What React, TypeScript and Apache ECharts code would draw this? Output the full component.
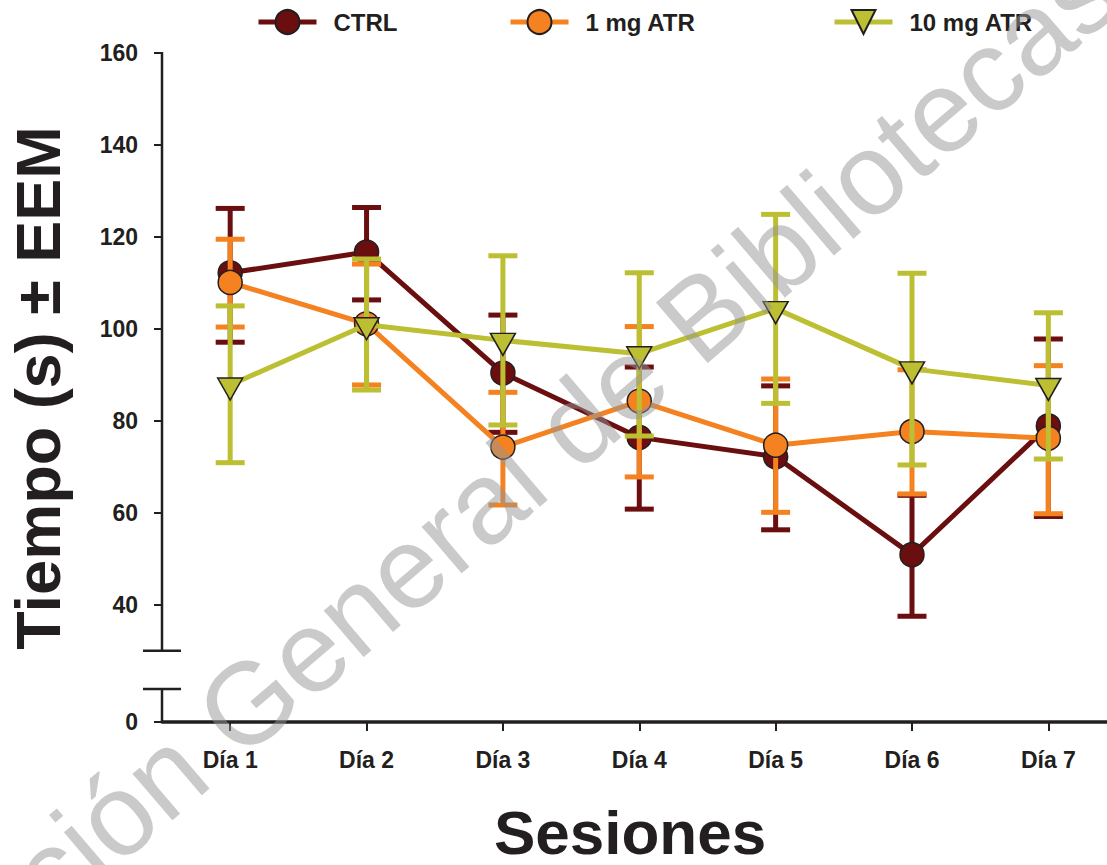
import React, { useEffect, useRef } from 'react';
import * as echarts from 'echarts';

// ---- data ----
const days = ['Día 1', 'Día 2', 'Día 3', 'Día 4', 'Día 5', 'Día 6', 'Día 7'];
const yTickValues = [40, 60, 80, 100, 120, 140, 160];

const ctrlMean = [112.2, 116.7, 90.4, 76.4, 72.2, 50.9, 78.9];
const ctrlLow = [97.1, 106.3, 77.5, 60.8, 56.3, 37.5, 59.2];
const ctrlHigh = [126.2, 126.4, 103.0, 91.7, 87.6, 63.8, 97.8];

const atr1Mean = [110.1, 101.1, 74.3, 84.3, 74.7, 77.7, 76.2];
const atr1Low = [100.4, 87.8, 61.7, 67.8, 60.1, 64.1, 59.8];
const atr1High = [119.5, 114.1, 86.2, 100.5, 89.1, 91.1, 92.0];

const atr10Mean = [87.8, 100.9, 97.5, 94.6, 104.4, 91.3, 87.7];
const atr10Low = [70.9, 86.7, 79.1, 76.7, 83.8, 70.4, 71.7];
const atr10High = [105.0, 115.2, 115.9, 112.2, 124.9, 112.1, 103.5];

// axis layout constants
const Y_MIN = 14.5; // plotted position of the "0" tick (broken axis)
const Y_MAX = 160;
const BREAK_TOP = 30;
const BREAK_BOTTOM = 21.7;
const X_MIN = 0.5;
const X_MAX = 7.43;

const FONT = '"Liberation Sans", Arial, Helvetica, sans-serif';
const TEXT = '#231F20';
const C_CTRL = '#6B0E10';
const C_ATR1 = '#F58220';
const C_ATR10 = '#BDBF33';

function errBar(name: string, color: string, lo: number[], hi: number[], z: number) {
  return {
    type: 'custom',
    name,
    z,
    silent: true,
    clip: false,
    data: lo.map((l, i) => [i + 1, l, hi[i]]),
    encode: { x: 0, y: [1, 2] },
    renderItem: (_p: any, api: any) => {
      const x = api.value(0);
      const top = api.coord([x, api.value(2)]);
      const bot = api.coord([x, api.value(1)]);
      const hw = 14.5;
      const style = { stroke: color, lineWidth: 5 };
      return {
        type: 'group',
        children: [
          { type: 'line', shape: { x1: top[0], y1: top[1], x2: bot[0], y2: bot[1] }, style },
          { type: 'line', shape: { x1: top[0] - hw, y1: top[1], x2: top[0] + hw, y2: top[1] }, style },
          { type: 'line', shape: { x1: bot[0] - hw, y1: bot[1], x2: bot[0] + hw, y2: bot[1] }, style },
        ],
      };
    },
  };
}

function lineSeries(name: string, color: string, mean: number[], z: number, tri: boolean) {
  return {
    type: 'line',
    name,
    z,
    data: mean.map((v, i) => [i + 1, v]),
    symbol: tri ? 'triangle' : 'circle',
    symbolSize: tri ? [25, 22] : 24,
    symbolRotate: tri ? 180 : 0,
    symbolOffset: tri ? [0, 4] : [0, 0],
    showAllSymbol: true,
    lineStyle: { color, width: 5 },
    itemStyle: { color, borderColor: TEXT, borderWidth: 1.5 },
    emphasis: { disabled: true },
    silent: true,
  };
}

export default function App() {
  const ref = useRef<HTMLDivElement>(null);
  useEffect(() => {
    document.body.style.margin = '0';
    const chart = echarts.init(ref.current!, null, { renderer: 'svg' });
    const legendText = {
      fontFamily: FONT,
      fontWeight: 'bold',
      fontSize: 24,
      color: TEXT,
      padding: [0, 0, 0, 12],
    };
    const mkLegend = (name: string, left: number) => ({
      data: [name],
      left,
      top: 9,
      padding: 0,
      itemWidth: 58,
      itemHeight: 30,
      selectedMode: false,
      lineStyle: { width: 5 },
      textStyle: legendText,
    });
    chart.setOption({
      animation: false,
      backgroundColor: '#ffffff',
      grid: { left: 162, right: 0, top: 53, bottom: 143 },
      legend: [mkLegend('CTRL', 256), mkLegend('1 mg ATR', 508), mkLegend('10 mg ATR', 832)],
      xAxis: {
        type: 'value',
        min: X_MIN,
        max: X_MAX,
        splitLine: { show: false },
        axisLine: { show: true, lineStyle: { color: TEXT, width: 3.5 } },
        axisTick: {
          show: true,
          customValues: days.map((_, i) => i + 1),
          length: 9,
          lineStyle: { color: TEXT, width: 2 },
        },
        axisLabel: {
          customValues: days.map((_, i) => i + 1),
          formatter: (v: number) => days[Math.round(v) - 1] ?? '',
          fontFamily: FONT,
          fontWeight: 'bold',
          fontSize: 23,
          color: TEXT,
          margin: 26,
        },
      },
      yAxis: {
        type: 'value',
        min: Y_MIN,
        max: Y_MAX,
        splitLine: { show: false },
        axisLine: { show: false },
        axisTick: {
          show: true,
          customValues: [Y_MIN, ...yTickValues],
          length: 8,
          lineStyle: { color: TEXT, width: 2 },
        },
        axisLabel: {
          customValues: [Y_MIN, ...yTickValues],
          formatter: (v: number) => (v === Y_MIN ? '0' : String(v)),
          fontFamily: FONT,
          fontWeight: 'bold',
          fontSize: 23,
          color: TEXT,
          margin: 24,
        },
      },
      series: [
        {
          type: 'custom',
          name: 'axis-break',
          z: 1,
          silent: true,
          clip: false,
          data: [[X_MIN, Y_MAX]],
          encode: { x: 0, y: 1 },
          renderItem: (_p: any, api: any) => {
            const top = api.coord([X_MIN, Y_MAX]);
            const b1 = api.coord([X_MIN, BREAK_TOP]);
            const b2 = api.coord([X_MIN, BREAK_BOTTOM]);
            const bot = api.coord([X_MIN, Y_MIN]);
            const st = { stroke: TEXT, lineWidth: 2.5 };
            return {
              type: 'group',
              children: [
                { type: 'line', shape: { x1: top[0], y1: top[1] - 1, x2: b1[0], y2: b1[1] }, style: st },
                { type: 'line', shape: { x1: b1[0] - 19, y1: b1[1], x2: b1[0] + 19, y2: b1[1] }, style: st },
                { type: 'line', shape: { x1: b2[0] - 19, y1: b2[1], x2: b2[0] + 19, y2: b2[1] }, style: st },
                { type: 'line', shape: { x1: b2[0], y1: b2[1], x2: bot[0], y2: bot[1] }, style: st },
              ],
            };
          },
        },
        errBar('CTRL EEM', C_CTRL, ctrlLow, ctrlHigh, 2),
        lineSeries('CTRL', C_CTRL, ctrlMean, 3, false),
        errBar('1 mg ATR EEM', C_ATR1, atr1Low, atr1High, 4),
        lineSeries('1 mg ATR', C_ATR1, atr1Mean, 5, false),
        errBar('10 mg ATR EEM', C_ATR10, atr10Low, atr10High, 6),
        lineSeries('10 mg ATR', C_ATR10, atr10Mean, 7, true),
      ],
      graphic: [
        {
          type: 'text',
          x: 38,
          y: 388,
          rotation: Math.PI / 2,
          style: {
            text: 'Tiempo (s) ± EEM',
            font: `bold 63px ${FONT}`,
            fill: TEXT,
            textAlign: 'center',
            textVerticalAlign: 'middle',
          },
        },
        {
          type: 'text',
          x: 630,
          y: 832,
          style: {
            text: 'Sesiones',
            font: `bold 62px ${FONT}`,
            fill: TEXT,
            textAlign: 'center',
            textVerticalAlign: 'middle',
          },
        },
        {
          type: 'text',
          x: -178,
          y: 1067,
          rotation: (40.5 * Math.PI) / 180,
          z: 100,
          silent: true,
          style: {
            text: 'Dirección General de Bibliotecas',
            font: `116px ${FONT}`,
            fill: 'rgba(150,150,150,0.5)',
            textAlign: 'left',
            textVerticalAlign: 'middle',
          },
        },
      ],
    });
    return () => chart.dispose();
  }, []);
  return <div ref={ref} style={{ width: 1107, height: 865 }} />;
}
